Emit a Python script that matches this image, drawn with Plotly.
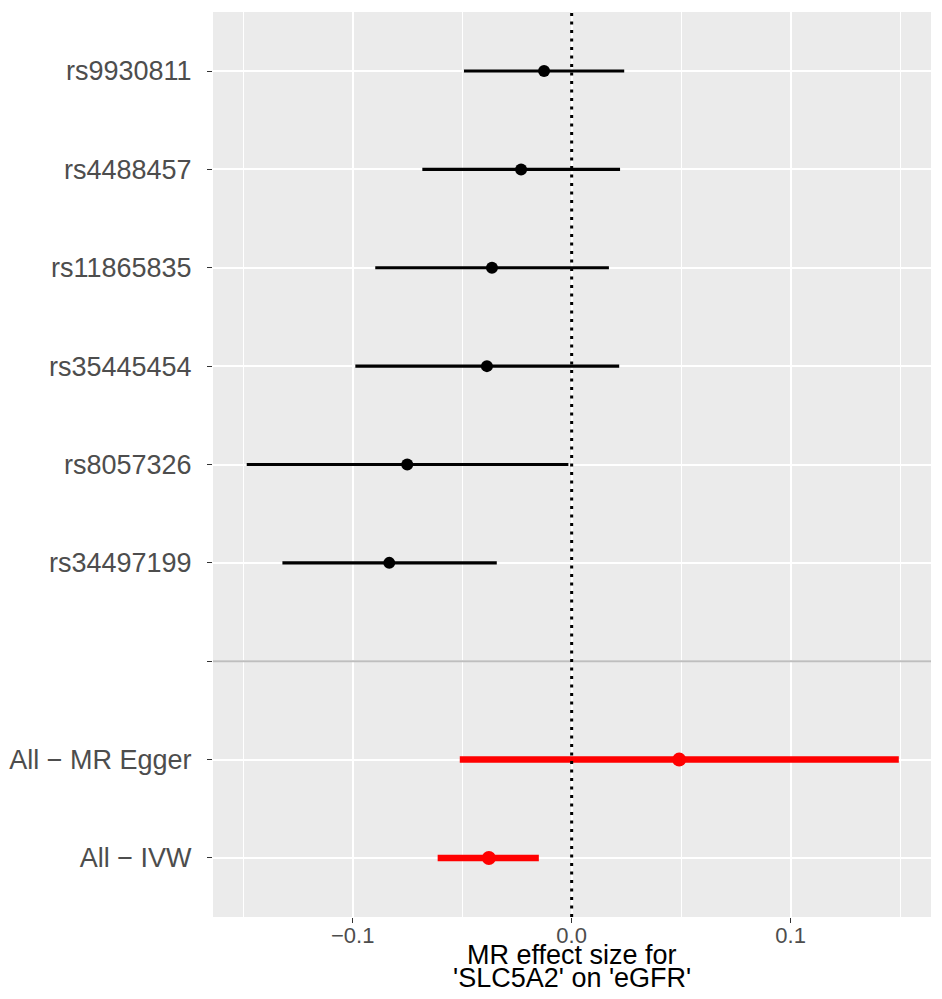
import plotly.graph_objects as go

# ---- data ----
snps = ["rs9930811", "rs4488457", "rs11865835", "rs35445454", "rs8057326", "rs34497199"]
snp_b = [-0.0126, -0.0231, -0.0364, -0.0387, -0.0751, -0.0833]
snp_lo = [-0.0492, -0.0682, -0.0897, -0.0988, -0.1484, -0.1321]
snp_hi = [0.0240, 0.0221, 0.0170, 0.0217, -0.0015, -0.0342]

methods = ["All − MR Egger", "All − IVW"]
m_b = [0.0491, -0.0378]
m_lo = [-0.0511, -0.0612]
m_hi = [0.1494, -0.0150]

x_ticks = [-0.1, 0.0, 0.1]
x_tick_text = ["−0.1", "0.0", "0.1"]
x_minor = [-0.15, -0.05, 0.05, 0.15]

title_lines = ["MR effect size for", "'SLC5A2' on 'eGFR'"]

# ---- layout of rows: snps, a blank separator row, then methods ----
order = snps + [""] + methods
n = len(order)
ypos = {lab: n - i for i, lab in enumerate(order)}
sep_y = ypos[""]

FONT = "Liberation Sans, Arial, Helvetica, sans-serif"

fig = go.Figure()

fig.add_trace(go.Scatter(
    x=snp_b, y=[ypos[s] for s in snps], mode="markers",
    marker=dict(color="black", size=12),
    error_x=dict(type="data", symmetric=False,
                 array=[h - b for h, b in zip(snp_hi, snp_b)],
                 arrayminus=[b - l for b, l in zip(snp_b, snp_lo)],
                 color="black", thickness=3.2, width=0),
    showlegend=False, hoverinfo="skip",
))

fig.add_trace(go.Scatter(
    x=m_b, y=[ypos[m] for m in methods], mode="markers",
    marker=dict(color="#FF0000", size=14),
    error_x=dict(type="data", symmetric=False,
                 array=[h - b for h, b in zip(m_hi, m_b)],
                 arrayminus=[b - l for b, l in zip(m_b, m_lo)],
                 color="#FF0000", thickness=6.5, width=0),
    showlegend=False, hoverinfo="skip",
))

# separator (grey) line at blank row
fig.add_shape(type="line", xref="paper", x0=0, x1=1, yref="y", y0=sep_y, y1=sep_y,
              line=dict(color="#BEBEBE", width=2), layer="above")
# dotted null line
fig.add_shape(type="line", xref="x", x0=0, x1=0, yref="paper", y0=0, y1=1,
              line=dict(color="black", width=3, dash="3px,5.5px"), layer="above")

# axis title as two tight lines
for line, shift in zip(title_lines, [-38, -61]):
    fig.add_annotation(text=line, xref="paper", x=0.5, yref="paper", y=0,
                       yanchor="middle", xanchor="center", yshift=shift,
                       showarrow=False, font=dict(family=FONT, size=27, color="black"))

fig.update_layout(
    width=934, height=991,
    margin=dict(l=205, r=11, t=4, b=82, autoexpand=False),
    paper_bgcolor="white", plot_bgcolor="#EBEBEB",
    font=dict(family=FONT),
    xaxis=dict(
        range=[-0.1638, 0.1641], tickvals=x_ticks, ticktext=x_tick_text,
        showgrid=True, gridcolor="white", gridwidth=2,
        zeroline=False, showline=False,
        ticks="outside", ticklen=5, tickwidth=1, tickcolor="#333333",
        tickfont=dict(family=FONT, size=22, color="#4D4D4D"),
        ticklabelstandoff=-6,
        minor=dict(tickvals=x_minor, showgrid=True, gridcolor="white", gridwidth=1.1, ticks=""),
    ),
    yaxis=dict(
        range=[0.4, n + 0.6], tickvals=[ypos[l] for l in order], ticktext=order,
        showgrid=True, gridcolor="white", gridwidth=2,
        zeroline=False, showline=False,
        ticks="outside", ticklen=5, tickwidth=1, tickcolor="#333333",
        tickfont=dict(family=FONT, size=27, color="#4D4D4D"),
        ticklabelstandoff=10,
    ),
)

fig.write_html("out.html")
